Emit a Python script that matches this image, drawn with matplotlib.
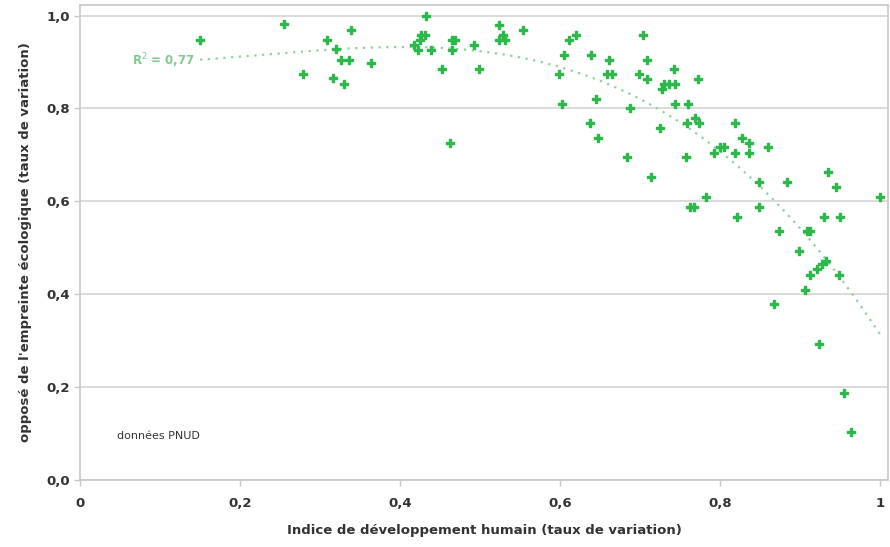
import matplotlib
matplotlib.use("Agg")

import matplotlib.pyplot as plt
import numpy as np
from matplotlib.ticker import FixedLocator, FixedFormatter


# Indice de développement humain vs opposé de l'empreinte écologique
idh = [
    0.150, 0.255, 0.279, 0.309, 0.320, 0.316, 0.326, 0.336, 0.330, 0.339, 0.364,
    0.432, 0.426, 0.431, 0.425, 0.417, 0.4225, 0.439, 0.452, 0.465, 0.469, 0.465,
    0.4625, 0.492, 0.499, 0.524, 0.528, 0.523, 0.531, 0.554,
    0.598, 0.605, 0.611, 0.620, 0.6025, 0.638, 0.661, 0.658, 0.665, 0.645, 0.6375,
    0.647, 0.683, 0.687, 0.703, 0.698, 0.708, 0.708, 0.742, 0.727, 0.730, 0.736,
    0.743, 0.772, 0.743, 0.760, 0.725, 0.758, 0.768, 0.774, 0.714, 0.7575, 0.818,
    0.8275, 0.836, 0.860, 0.7925, 0.800, 0.805, 0.819, 0.836, 0.849, 0.884, 0.935,
    0.945, 1.000, 0.782, 0.7625, 0.7667, 0.821, 0.849, 0.873, 0.908, 0.912, 0.930,
    0.950, 0.898, 0.921, 0.927, 0.932, 0.9125, 0.948, 0.906, 0.867, 0.924, 0.955,
    0.963,
]
empreinte = [
    0.948, 0.981, 0.875, 0.948, 0.929, 0.866, 0.905, 0.905, 0.853, 0.970, 0.897,
    1.000, 0.959, 0.959, 0.948, 0.937, 0.927, 0.927, 0.885, 0.948, 0.948, 0.927,
    0.726, 0.937, 0.885, 0.979, 0.959, 0.948, 0.948, 0.968,
    0.875, 0.916, 0.948, 0.959, 0.810, 0.916, 0.905, 0.874, 0.874, 0.821, 0.769,
    0.737, 0.695, 0.800, 0.958, 0.874, 0.905, 0.864, 0.885, 0.842, 0.853, 0.853,
    0.853, 0.864, 0.810, 0.810, 0.758, 0.769, 0.780, 0.769, 0.653, 0.695, 0.769,
    0.737, 0.726, 0.716, 0.705, 0.716, 0.716, 0.705, 0.705, 0.642, 0.642, 0.663,
    0.631, 0.610, 0.610, 0.588, 0.588, 0.567, 0.588, 0.537, 0.537, 0.537, 0.567,
    0.567, 0.494, 0.455, 0.466, 0.472, 0.442, 0.442, 0.409, 0.379, 0.293, 0.188,
    0.103,
]

x_ticks = [0, 0.2, 0.4, 0.6, 0.8, 1.0]
x_tick_labels = ["0", "0,2", "0,4", "0,6", "0,8", "1"]
y_ticks = [0, 0.2, 0.4, 0.6, 0.8, 1.0]
y_tick_labels = ["0,0", "0,2", "0,4", "0,6", "0,8", "1,0"]

GREEN = "#2db84b"
TREND = "#8fd19e"
GRID = "#d4d4d4"
TEXT = "#333333"

x = np.array(idh)
y = np.array(empreinte)

fig = plt.figure(figsize=(8.9, 5.47), dpi=100)
ax = fig.add_axes([0.0899, 0.1225, 0.9081, 0.8685])

# courbe de tendance polynomiale
coefs = np.polyfit(x, y, 3)
xs = np.linspace(x.min(), x.max(), 200)
ax.plot(xs, np.polyval(coefs, xs), linestyle=(0, (1, 2.5)), color=TREND,
        linewidth=1.6, zorder=2)

ax.scatter(x, y, marker="P", s=26, color=GREEN, edgecolors=GREEN,
           linewidths=1.0, zorder=3)

ax.set_xlim(0, 1.01)
ax.set_ylim(0, 1.023)

ax.xaxis.set_major_locator(FixedLocator(x_ticks))
ax.xaxis.set_major_formatter(FixedFormatter(x_tick_labels))
ax.yaxis.set_major_locator(FixedLocator(y_ticks))
ax.yaxis.set_major_formatter(FixedFormatter(y_tick_labels))

ax.yaxis.grid(True, color=GRID, linewidth=1.2)
ax.set_axisbelow(True)

for side in ["left", "right", "top", "bottom"]:
    ax.spines[side].set_color("#c8c8c8")
    ax.spines[side].set_linewidth(1.2)

ax.tick_params(axis="both", colors="#c8c8c8", labelcolor=TEXT, labelsize=9.5,
               length=4, width=1)
ax.tick_params(axis="x", pad=8)
for lbl in ax.get_xticklabels() + ax.get_yticklabels():
    lbl.set_fontweight("bold")

ax.set_xlabel("Indice de développement humain (taux de variation)",
              fontsize=9.5, fontweight="bold", color=TEXT, labelpad=10)
ax.set_ylabel("opposé de l'empreinte écologique (taux de variation)",
              fontsize=9.5, fontweight="bold", color=TEXT, labelpad=10)

ax.text(0.144, 0.903, "R$^2$ = 0,77", color="#7fcb8f", fontsize=8.5,
        fontweight="bold", ha="right", va="center")

ax.text(0.046, 0.095, "données PNUD", color=TEXT, fontsize=8,
        ha="left", va="center")

fig.savefig("out.png", dpi=100)
